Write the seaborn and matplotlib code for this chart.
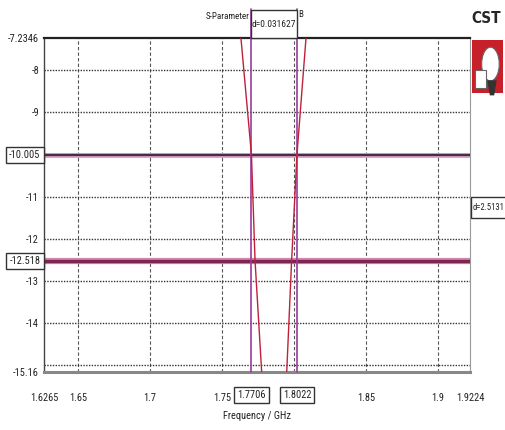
import matplotlib
matplotlib.use('Agg')
import matplotlib.pyplot as plt
import matplotlib.transforms as mtransforms
from matplotlib.patches import Rectangle, Polygon, Circle
from matplotlib import font_manager
import seaborn as sns

# S11 curve
freq = [1.7560, 1.7633, 1.7706, 1.7731, 1.7777, 1.7860, 1.7951, 1.7985, 1.8022, 1.8085, 1.8160]
s11 = [-5.0, -7.2346, -10.005, -12.518, -15.16, -24.0, -15.16, -12.518, -10.005, -7.2346, -5.2]

# markers
marker_freqs = [1.7706, 1.8022]
marker_levels = [-10.005, -12.518]
marker_level_labels = ['-10.005', '-12.518']
marker_freq_labels = ['1.7706', '1.8022']
freq_delta = 'd=0.031627'
level_delta = 'd=2.5131'

x_limits = [1.6265, 1.9224]
y_limits = [-15.16, -7.2346]
x_ticks = [1.6265, 1.65, 1.7, 1.75, 1.85, 1.9, 1.9224]
x_tick_labels = ['1.6265', '1.65', '1.7', '1.75', '1.85', '1.9', '1.9224']
y_ticks = [-7.2346, -8, -9, -11, -12, -13, -14, -15.16]
y_tick_labels = ['-7.2346', '-8', '-9', '-11', '-12', '-13', '-14', '-15.16']
x_grid = [1.65, 1.7, 1.75, 1.8, 1.85, 1.9]
y_grid = [-8, -9, -10, -11, -12, -13, -14, -15]

sns.set_style('white')
names = {f.name for f in font_manager.fontManager.ttflist}
narrow = [n for n in ['Liberation Sans Narrow', 'DejaVu Sans Condensed', 'Roboto Condensed'] if n in names]
plt.rcParams['font.family'] = narrow + ['DejaVu Sans']
plt.rcParams['font.stretch'] = 'condensed'
plt.rcParams['axes.unicode_minus'] = False
fs = 7.5
tc = '#222222'

fig = plt.figure(figsize=(5.05, 4.30), dpi=100)
ax = fig.add_axes([0.0871, 0.1349, 0.8436, 0.7767])

# grid
for gx in x_grid:
    ax.axvline(gx, color='#555555', lw=0.8, ls=(0, (3, 2)), zorder=1)
for gy in y_grid:
    ax.axhline(gy, color='#333333', lw=1.0, ls=(0, (1, 1)), zorder=1)

# curve
sns.lineplot(x=freq, y=s11, ax=ax, color='#c0203a', lw=1.0, zorder=4)

# horizontal markers
ax.axhline(marker_levels[0], color='#d9a0c0', lw=3.5, zorder=2)
ax.axhline(marker_levels[0], color='#4b2a4e', lw=1.6, zorder=3)
ax.axhline(marker_levels[1], color='#d08ab0', lw=4.5, zorder=2)
ax.axhline(marker_levels[1], color='#7d2450', lw=2.4, zorder=3)

# vertical markers (extend up into the delta box)
for mf in marker_freqs:
    ax.axvline(mf, ymin=0, ymax=1.088, color='#9a3c9a', lw=1.2, clip_on=False, zorder=3)

ax.set_xlim(x_limits)
ax.set_ylim(y_limits)
ax.set_xticks(x_ticks, x_tick_labels, fontsize=fs, color=tc)
ax.set_yticks(y_ticks, y_tick_labels, fontsize=fs, color=tc)
ax.tick_params(axis='x', length=3, pad=12, color='#444444')
ax.tick_params(axis='y', length=2, pad=1.5, color='#444444')
ax.set_xlabel('Frequency / GHz', fontsize=fs, labelpad=6, color=tc)

for side, col, w in [('top', '#222222', 1.6), ('left', '#444444', 1.0),
                     ('right', '#999999', 0.8), ('bottom', '#888888', 2.2)]:
    ax.spines[side].set_visible(True)
    ax.spines[side].set_color(col)
    ax.spines[side].set_linewidth(w)

box = dict(boxstyle='square,pad=0.3', fc='white', ec='#333333', lw=1)

# boxed marker values on the axes
for lv, lab in zip(marker_levels, marker_level_labels):
    ax.text(-0.008, lv, lab, transform=ax.get_yaxis_transform(),
            ha='right', va='center', fontsize=fs, color=tc, bbox=box)
for mf, lab in zip(marker_freqs, marker_freq_labels):
    ax.text(mf, -0.068, lab, transform=ax.get_xaxis_transform(),
            ha='center', va='center', fontsize=fs, color=tc, bbox=box)

# level delta on the right: box runs off the figure edge, text stays inside
fig.add_artist(Rectangle((0.933, 0.493), 0.1, 0.05, transform=fig.transFigure,
                         fc='white', ec='#333333', lw=1, zorder=2))
fig.text(0.9367, 0.5175, level_delta, ha='left', va='center', fontsize=6.2, color=tc, zorder=3)

# frequency delta box on top
trans = mtransforms.blended_transform_factory(ax.transData, ax.transAxes)
ax.add_patch(Rectangle((marker_freqs[0], 1.0), marker_freqs[1] - marker_freqs[0], 0.085,
                       transform=trans, fc='white', ec='#333333', lw=1, clip_on=False, zorder=5))
ax.text(sum(marker_freqs) / 2, 1.04, freq_delta, transform=trans, ha='center', va='center',
        fontsize=6.8, color=tc, zorder=6)
ax.text(marker_freqs[0] - 0.0012, 1.065, 'S-Parameter', transform=trans, ha='right',
        va='center', fontsize=6.5, color=tc)
ax.text(marker_freqs[1] + 0.0008, 1.07, 'B', transform=trans, ha='left', va='center',
        fontsize=6.5, color=tc)

# CST logo
fig.text(0.962, 0.958, 'CST', ha='center', va='center', fontsize=11, fontweight='bold',
         family=['DejaVu Sans'])
lax = fig.add_axes([0.934, 0.767, 0.062, 0.14])
lax.set_xlim(0, 1)
lax.set_ylim(0, 1)
lax.axis('off')
lax.add_patch(Rectangle((0, 0.12), 1, 0.88, fc='#c8202a', ec='none'))
lax.add_patch(Circle((0.6, 0.6), 0.28, fc='white', ec='#666666', lw=0.8))
lax.add_patch(Polygon([[0.1, 0.5], [0.45, 0.5], [0.45, 0.2], [0.1, 0.2]], fc='white', ec='#666666', lw=0.8))
lax.add_patch(Polygon([[0.5, 0.33], [0.8, 0.33], [0.72, 0.08], [0.58, 0.08]], fc='#333333', ec='none'))

fig.savefig('out.png', dpi=100)
